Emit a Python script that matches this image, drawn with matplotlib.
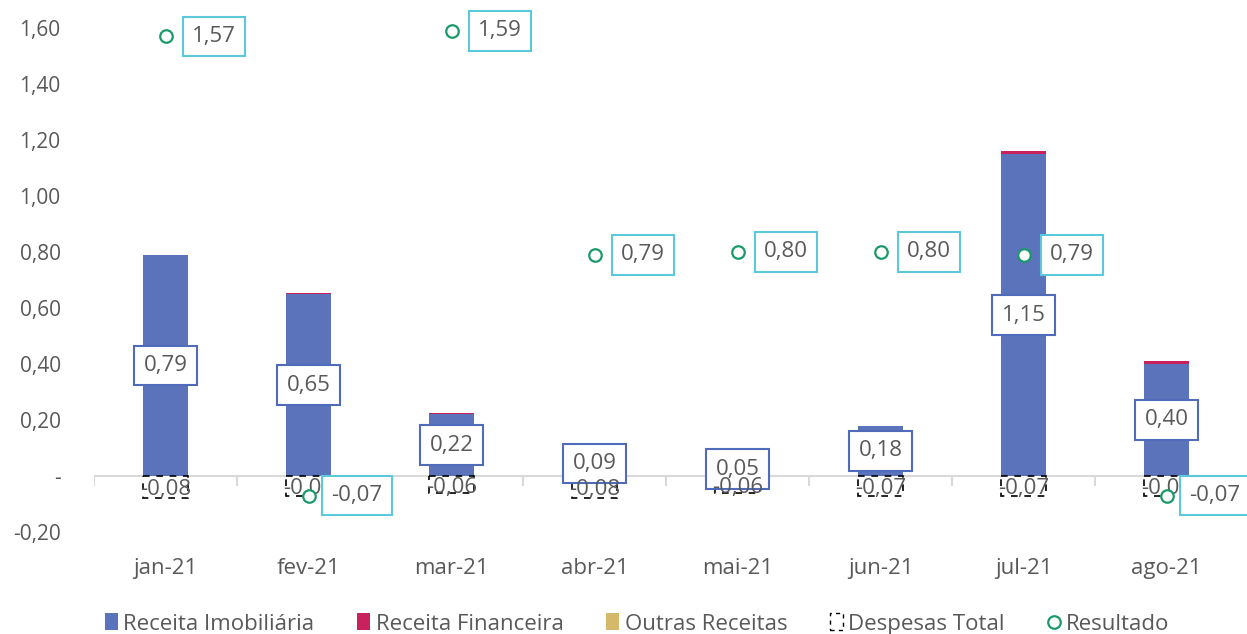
import matplotlib.pyplot as plt
import numpy as np
from matplotlib.patches import Patch
from matplotlib.lines import Line2D

plt.rcParams['font.family'] = ['Open Sans', 'DejaVu Sans']

# data
meses = ['jan-21', 'fev-21', 'mar-21', 'abr-21', 'mai-21', 'jun-21', 'jul-21', 'ago-21']
receita_imob = [0.79, 0.65, 0.22, 0.09, 0.05, 0.18, 1.15, 0.40]
receita_fin = [0.0, 0.005, 0.005, 0.0, 0.0, 0.0, 0.01, 0.01]
outras_rec = [0.0, 0.0, 0.0, 0.0, 0.0, 0.0, 0.0, 0.0]
despesas = [-0.08, -0.07, -0.06, -0.08, -0.06, -0.07, -0.07, -0.07]
resultado = [1.57, -0.07, 1.59, 0.79, 0.80, 0.80, 0.79, -0.07]
yticks = [-0.2, 0, 0.2, 0.4, 0.6, 0.8, 1.0, 1.2, 1.4, 1.6]

c_imob = '#5B73BA'
c_fin = '#C8215E'
c_out = '#D4B96A'
c_res = '#1A9A68'
c_txt = '#595959'

def fmt(v):
    return f'{v:.2f}'.replace('.', ',')

fig = plt.figure(figsize=(12.47, 6.34), dpi=100)
ax = fig.add_axes([94 / 1247, 1 - 532 / 634, 1144 / 1247, 504 / 634])

x = np.arange(len(meses))
w = 0.31
imob = np.array(receita_imob)
fin = np.array(receita_fin)
ax.bar(x, imob, w, color=c_imob, zorder=2)
ax.bar(x, fin, w, bottom=imob, color=c_fin, zorder=2)
ax.bar(x, outras_rec, w, bottom=imob + fin, color=c_out, zorder=2)
ax.bar(x, despesas, w, facecolor='white', edgecolor='black', linestyle=(0, (4, 4)),
       linewidth=1.2, zorder=2)

ax.plot(x, resultado, 'o', ms=9, mfc='white', mec=c_res, mew=1.6, zorder=5, clip_on=False)

# labels
for i in range(len(meses)):
    ax.text(x[i], despesas[i] / 2 - 0.01, fmt(despesas[i]), ha='center', va='center',
            fontsize=16, color=c_txt, zorder=4.5)
    ax.text(x[i], imob[i] / 2, fmt(imob[i]), ha='center', va='center', fontsize=16,
            color=c_txt, zorder=4,
            bbox=dict(boxstyle='square,pad=0.42', fc='white', ec='#4F6BBA', lw=1.5))
    ax.annotate(fmt(resultado[i]), (x[i], resultado[i]), xytext=(35, 0),
                textcoords='offset points', ha='center', va='center', fontsize=16,
                color=c_txt, zorder=6, annotation_clip=False,
                bbox=dict(boxstyle='square,pad=0.42', fc='white', ec='#5BC8DC', lw=1.5))

ax.set_xlim(-0.5, len(meses) - 0.5)
ax.set_ylim(-0.2, 1.6)
ax.axhline(0, color='#D9D9D9', lw=1.5, zorder=1)
ax.vlines(np.arange(len(meses) + 1) - 0.5, -0.036, 0, color='#D9D9D9', lw=1.5, zorder=1)

ax.set_yticks(yticks)
ax.set_yticklabels(['-' if v == 0 else fmt(v) for v in yticks])
ax.set_xticks(x)
ax.set_xticklabels(meses)
ax.tick_params(axis='y', length=0, pad=24, labelsize=15, labelcolor=c_txt)
ax.tick_params(axis='x', length=0, pad=19, labelsize=16, labelcolor=c_txt)
for s in ax.spines.values():
    s.set_visible(False)

handles = [
    Patch(facecolor=c_imob),
    Patch(facecolor=c_fin),
    Patch(facecolor=c_out),
    Patch(facecolor='white', edgecolor='black', linestyle=(0, (3, 3))),
    Line2D([], [], marker='o', ls='none', ms=9, mfc='white', mec=c_res, mew=1.6),
]
labels = ['Receita Imobiliária', 'Receita Financeira', 'Outras Receitas', 'Despesas Total', 'Resultado']
fig.legend(handles, labels, loc='center', bbox_to_anchor=(637 / 1247, 1 - 624 / 634), ncol=5,
           frameon=False, fontsize=16, labelcolor=c_txt, handlelength=0.6, handleheight=0.8,
           handletextpad=0.25, columnspacing=1.9)

fig.savefig('out.png', dpi=100)
